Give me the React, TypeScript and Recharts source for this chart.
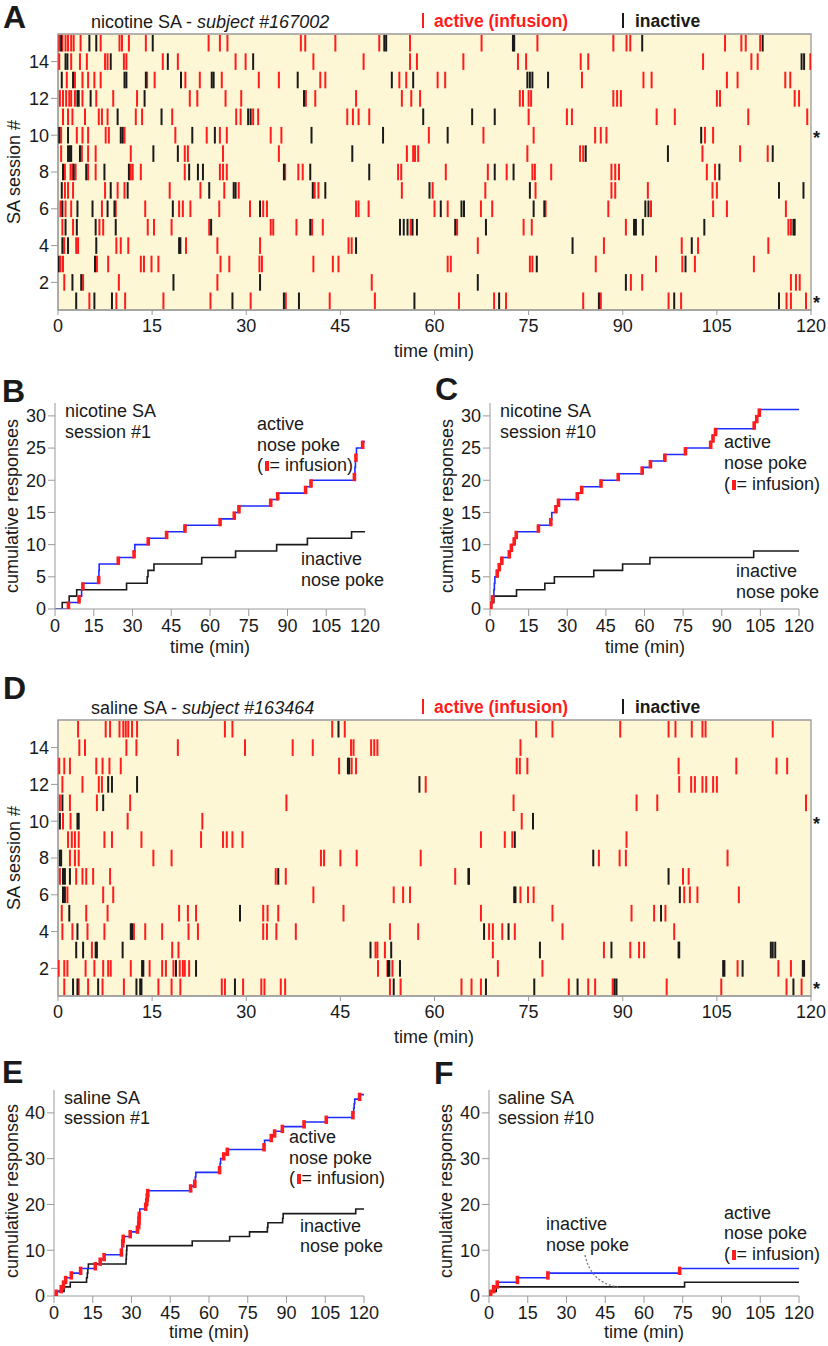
import React from 'react';
import { ScatterChart, Scatter, XAxis, YAxis, ReferenceArea, ComposedChart, Line } from 'recharts';

const FONT = '"Liberation Sans", Arial, Helvetica, sans-serif';
const RED = '#ff1c1c';
const BLUE = '#1f2cff';
const INK = '#1a1a1a';
const AXIS = '#9a9a9a';
const BG = '#fef7d6';
const FS = 18;

const timeTicks = [0, 15, 30, 45, 60, 75, 90, 105, 120];
const sessionTicks = [2, 4, 6, 8, 10, 12, 14];
const nicTicksY = [0, 5, 10, 15, 20, 25, 30];
const salTicksY = [0, 10, 20, 30, 40];

// ---- Panel A: nicotine SA raster (index 0 = session 1) ----
const nicActive: number[][] = [
  [5.0, 9.3, 10.7, 16.8, 24.3, 30.7, 36.3, 43.3, 50.5, 63.9, 69.5, 71.4, 83.7, 86.5, 97.3, 99.3, 116.1, 116.8, 119.2],
  [1.0, 4.0, 9.7, 25.4, 50.0, 91.3, 93.1, 116.8, 117.6, 118.2],
  [0.4, 0.8, 6.2, 8.0, 13.2, 13.7, 14.9, 16.0, 25.9, 27.3, 32.1, 32.5, 40.7, 43.8, 44.7, 62.1, 62.6, 75.2, 75.6, 85.7, 95.3, 99.5, 101.5, 110.9],
  [1.0, 2.9, 3.2, 9.3, 10.0, 11.2, 20.4, 25.4, 32.2, 46.3, 46.8, 66.9, 87.0, 99.4, 102.0, 113.2],
  [0.7, 2.4, 6.6, 7.2, 14.3, 15.3, 18.1, 24.1, 33.9, 34.3, 38.0, 40.5, 42.2, 56.2, 63.6, 74.2, 75.5, 90.5, 116.4, 116.8],
  [0.4, 1.2, 2.1, 7.0, 9.2, 13.9, 19.3, 19.9, 21.1, 25.7, 30.6, 32.7, 33.3, 47.5, 47.9, 49.5, 60.0, 62.1, 67.4, 69.2, 77.7, 87.7, 94.5, 104.4, 106.6, 116.0],
  [1.1, 1.6, 2.4, 7.5, 9.5, 10.6, 17.8, 22.7, 26.5, 28.8, 40.9, 41.5, 54.8, 59.7, 68.1, 76.1, 88.2, 88.8, 94.0, 104.3, 105.0],
  [1.1, 2.0, 2.3, 2.8, 4.8, 6.0, 11.6, 11.9, 13.2, 20.2, 25.8, 26.3, 26.9, 36.2, 38.3, 39.0, 54.2, 54.7, 61.8, 68.5, 71.5, 75.6, 76.0, 78.6, 88.2, 88.8, 89.4, 103.4, 104.7],
  [0.5, 3.8, 4.8, 6.0, 11.6, 20.2, 20.7, 26.3, 35.2, 55.6, 56.6, 56.9, 57.4, 74.8, 83.2, 83.7, 102.7, 108.7, 113.1],
  [0.5, 3.0, 3.9, 4.8, 7.6, 8.1, 10.6, 18.7, 23.7, 25.8, 26.9, 33.9, 35.6, 59.1, 67.8, 75.8, 85.6, 86.5, 87.4, 103.1, 104.4],
  [0.8, 1.6, 2.3, 4.3, 6.5, 7.0, 7.9, 12.4, 13.4, 18.2, 28.4, 29.1, 31.1, 31.9, 46.1, 47.0, 47.9, 49.6, 75.0, 81.1, 81.9, 95.4, 98.3, 110.0, 119.4],
  [0.3, 0.8, 1.3, 1.8, 2.1, 2.7, 3.9, 6.1, 8.8, 12.6, 21.0, 22.2, 26.7, 29.2, 39.5, 41.0, 47.5, 54.8, 56.3, 57.7, 73.6, 74.1, 75.0, 75.4, 88.5, 89.1, 89.7, 105.0, 105.5, 117.4, 118.1],
  [1.4, 2.7, 3.9, 4.8, 5.8, 6.8, 14.2, 15.4, 20.3, 22.6, 26.1, 32.0, 35.2, 41.8, 42.6, 54.4, 55.5, 60.5, 61.7, 83.5, 93.3, 94.6, 106.6, 108.3, 115.9, 116.7],
  [0.2, 2.1, 3.5, 4.6, 7.5, 7.9, 10.5, 10.9, 16.7, 19.1, 28.3, 29.9, 40.7, 48.7, 56.1, 57.2, 64.6, 73.3, 74.6, 83.3, 84.5, 102.8, 110.5, 111.5, 119.9],
  [0.2, 0.7, 1.2, 1.6, 2.1, 2.5, 3.6, 6.8, 9.8, 10.2, 11.3, 14.0, 24.0, 25.8, 27.0, 38.7, 39.4, 44.2, 51.2, 56.1, 67.5, 76.4, 88.5, 90.6, 91.2, 106.3, 108.9, 109.6, 111.9],
];
const nicInactive: number[][] = [
  [2.9, 5.8, 8.6, 27.8, 36.0, 38.4, 56.8, 70.3, 86.2, 98.2, 114.9],
  [2.3, 3.7, 18.4, 32.2, 66.9, 90.5],
  [0.1, 5.9, 76.3, 100.0],
  [0.7, 1.6, 6.1, 19.3, 19.5, 47.5, 82.0, 101.0],
  [1.2, 3.0, 6.0, 9.2, 24.4, 40.2, 54.5, 55.1, 55.7, 56.5, 57.2, 63.3, 68.2, 91.8, 92.1, 93.2, 103.0, 117.2, 117.4],
  [0.7, 3.1, 5.5, 7.9, 9.0, 18.3, 32.2, 61.0, 64.3, 64.7, 75.8, 77.5, 93.6, 94.1],
  [0.6, 8.4, 11.1, 24.1, 28.0, 28.3, 40.6, 42.6, 59.2, 75.2, 114.9, 118.8],
  [0.8, 2.5, 4.5, 7.4, 11.3, 20.9, 22.3, 23.1, 36.0, 40.2, 49.6, 69.6, 72.6, 105.4],
  [1.6, 1.9, 2.1, 3.5, 15.2, 19.1, 46.9, 84.1, 97.2, 113.9],
  [0.2, 1.6, 10.0, 10.3, 21.4, 25.0, 40.4, 51.8, 62.1, 102.5],
  [9.5, 16.5, 30.3, 30.7, 58.2, 66.0, 69.6],
  [3.1, 3.3, 5.2, 13.8, 39.2],
  [0.6, 2.4, 10.6, 10.9, 14.0, 19.6, 24.5, 24.8, 38.2, 53.2, 56.6, 74.8, 75.2, 75.6, 78.1],
  [1.2, 1.5, 8.4, 17.5, 31.1, 118.5, 118.9],
  [0.5, 5.0, 6.1, 15.1, 52.0, 52.3, 72.5, 72.7, 93.1, 112.3],
];

// ---- Panel D: saline SA raster (index 0 = session 1) ----
const salActive: number[][] = [
  [1.0, 3.3, 4.8, 7.1, 10.5, 16.0, 18.1, 19.5, 26.1, 26.6, 29.5, 32.4, 32.9, 35.5, 36.2, 52.9, 54.6, 64.3, 65.9, 67.4, 81.4, 84.5, 85.6, 88.4, 97.0, 105.7, 116.1, 118.5],
  [0.1, 1.0, 1.5, 4.4, 5.8, 7.2, 8.0, 8.4, 11.6, 14.6, 16.6, 17.2, 18.4, 19.4, 19.9, 20.2, 20.9, 51.0, 52.5, 53.3, 70.1, 77.2, 108.3, 114.8, 116.8],
  [5.4, 18.2, 19.2, 50.6, 50.9, 52.1, 69.3, 87.0, 91.2, 92.6, 93.4],
  [0.7, 2.3, 4.7, 7.4, 12.1, 13.9, 16.6, 20.8, 22.3, 32.7, 33.3, 34.8, 37.9, 52.9, 57.4, 68.7, 69.3, 70.8, 72.8, 80.4, 98.2],
  [0.6, 4.5, 7.9, 19.3, 20.7, 22.0, 32.7, 33.4, 35.1, 45.5, 67.4, 78.8, 91.4, 95.0, 96.8],
  [1.5, 7.2, 8.8, 40.7, 53.5, 55.0, 56.1, 73.7, 74.9, 75.8, 99.8, 100.7, 101.9, 108.5],
  [0.3, 2.9, 3.9, 4.5, 5.6, 8.3, 34.7, 36.3, 63.3, 99.6, 100.5],
  [1.9, 2.7, 3.3, 15.2, 18.1, 41.9, 42.4, 45.0, 47.6, 57.8, 86.2, 89.5, 90.5, 106.7],
  [1.6, 2.2, 2.7, 3.3, 7.4, 8.6, 13.3, 22.8, 26.3, 26.9, 27.8, 29.4, 67.4, 71.2, 72.4, 90.6],
  [0.8, 2.0, 11.1, 23.0, 73.9],
  [0.3, 1.9, 6.2, 11.5, 36.4, 72.6, 92.2, 95.5, 119.2],
  [0.7, 3.9, 6.5, 7.0, 58.6, 99.0, 100.9, 101.5, 102.7, 103.3, 104.4, 105.0],
  [0.2, 1.0, 1.9, 6.1, 7.1, 8.2, 10.0, 44.8, 46.8, 47.5, 73.1, 73.6, 74.8, 98.9, 108.1, 114.5, 116.2],
  [3.4, 4.3, 10.9, 12.5, 19.1, 29.8, 37.4, 40.6, 46.7, 47.1, 49.9, 50.4, 50.9, 73.7],
  [3.2, 7.6, 8.3, 9.8, 10.4, 10.8, 11.2, 11.8, 12.6, 26.6, 27.8, 43.7, 45.7, 76.2, 78.8, 89.6, 97.3, 98.4, 101.0, 102.7, 103.2, 113.9],
];
const salInactive: number[][] = [
  [2.4, 3.1, 6.4, 12.5, 13.1, 13.3, 28.2, 53.5, 68.2, 75.9, 82.8, 88.7, 89.0, 117.2],
  [13.4, 13.6, 18.8, 22.0, 52.6, 52.8, 54.5, 106.0, 106.2, 109.1, 118.7, 118.9],
  [2.9, 4.0, 6.0, 6.2, 10.3, 49.8, 53.1, 76.8, 88.2, 98.9, 99.0, 113.6, 113.9, 114.3],
  [3.1, 11.6, 11.8, 67.9, 71.8],
  [1.8, 29.0, 96.1],
  [0.8, 1.1, 72.7, 72.9, 99.1],
  [0.8, 1.1, 1.9, 35.1, 65.4, 65.5, 97.3],
  [0.3, 0.5, 85.3],
  [72.8],
  [0.3, 3.1, 3.3, 75.7],
  [0.7, 7.2],
  [8.0, 8.6, 12.6, 57.6],
  [46.2, 46.4],
  [],
  [44.7],
];

// ---- Cumulative panels: event times (min) and which active responses were infusions ----
const bActive = [5.2, 9.3, 10.3, 10.8, 16.9, 17.0, 17.1, 24.5, 30.6, 30.9, 36.1, 43.2, 50.3, 63.9, 69.4, 71.2, 83.5, 86.2, 97.0, 99.1, 115.9, 116.1, 116.3, 116.5, 116.7, 119.1];
const bInactive = [2.8, 5.5, 8.4, 27.7, 35.7, 36.0, 38.3, 56.8, 69.9, 85.8, 97.7, 114.8];
const bInfusions = [1, 2, 4, 5, 8, 9, 11, 12, 13, 14, 15, 16, 17, 18, 19, 20, 21, 24, 26];

const cActive = [0.3, 1.0, 1.5, 1.7, 1.9, 2.8, 3.6, 4.6, 7.5, 8.3, 9.4, 10.2, 18.8, 23.6, 24.0, 25.6, 26.6, 33.9, 35.6, 43.1, 49.8, 59.1, 62.3, 67.9, 75.9, 85.7, 86.6, 87.6, 102.6, 103.6, 104.6];
const cInactive = [0.6, 1.5, 10.3, 21.3, 25.0, 40.3, 51.5, 62.1, 102.4];
const cInfusions = [1, 2, 6, 7, 8, 9, 10, 11, 12, 13, 14, 16, 17, 18, 19, 20, 21, 22, 23, 24, 25, 26, 27, 28, 29, 30, 31];

const eActive = [0.9, 2.8, 3.7, 4.5, 6.7, 10.3, 16.0, 17.9, 19.4, 26.1, 26.4, 26.6, 26.8, 29.5, 32.3, 32.8, 32.9, 33.0, 33.2, 35.5, 35.9, 36.1, 36.3, 52.9, 54.5, 54.7, 54.9, 64.1, 64.3, 64.5, 65.7, 67.1, 81.3, 81.5, 84.1, 85.4, 88.4, 96.8, 105.4, 115.7, 116.0, 116.2, 116.4, 118.3];
const eInactive = [1.0, 3.9, 6.3, 12.6, 12.9, 13.1, 13.3, 27.9, 28.0, 28.1, 28.2, 53.5, 68.0, 75.7, 82.6, 82.8, 88.5, 88.7, 116.8];
const eInfusions = [1, 2, 3, 4, 5, 6, 7, 8, 9, 10, 12, 13, 14, 15, 16, 17, 18, 20, 21, 22, 23, 24, 25, 28, 31, 32, 33, 35, 36, 37, 38, 39, 40, 44];

const fActive = [0.6, 1.8, 3.2, 11.0, 22.8, 73.8];
const fInactive = [0.9, 2.8, 75.7];
const fInfusions = [1, 2, 3, 4, 5, 6];

// ---------- helpers ----------
const tickStyle = { fill: INK, fontSize: FS };

const rasterTick = (color: string) => (p: any) => (
  <line x1={p.cx} x2={p.cx} y1={p.cy - 8.3} y2={p.cy + 8.3} stroke={color} strokeWidth={2} />
);

const infusionMark = (p: any) => (
  <rect x={p.cx - 1.8} y={p.cy - 4.2} width={3.6} height={8.4} fill={RED} />
);

function Raster({ active, inactive }: { active: number[][]; inactive: number[][] }) {
  const act = active.flatMap((row, i) => row.map((t) => ({ t, s: i + 1 })));
  const ina = inactive.flatMap((row, i) => row.map((t) => ({ t, s: i + 1 })));
  return (
    <ScatterChart width={828} height={370} margin={{ top: 34, right: 17, bottom: 0, left: 0 }}>
      <ReferenceArea x1={0} x2={120} y1={0.5} y2={15.5} fill={BG} fillOpacity={1} stroke={AXIS} strokeWidth={1.3} />
      <XAxis type="number" dataKey="t" domain={[0, 120]} ticks={timeTicks} interval={0} height={60}
        stroke={AXIS} tickSize={5} tickMargin={4} tick={tickStyle} allowDataOverflow />
      <YAxis type="number" dataKey="s" domain={[0.5, 15.5]} ticks={sessionTicks} interval={0} width={58}
        stroke={AXIS} tickSize={7} tickMargin={2} tick={tickStyle} allowDataOverflow />
      <Scatter data={act} fill={RED} shape={rasterTick(RED)} isAnimationActive={false} />
      <Scatter data={ina} fill={INK} shape={rasterTick(INK)} isAnimationActive={false} />
    </ScatterChart>
  );
}

function steps(events: number[]) {
  return [{ t: 0, n: 0 }, ...events.map((t, i) => ({ t, n: i + 1 })), { t: 120, n: events.length }];
}

function Cumulative(props: {
  width: number; height: number; top: number; right: number; yWidth: number; xHeight: number;
  yMax: number; yTicks: number[]; active: number[]; inactive: number[]; infusions: number[];
}) {
  const { width, height, top, right, yWidth, xHeight, yMax, yTicks, active, inactive, infusions } = props;
  const marks = infusions.map((k) => ({ t: active[k - 1], n: k - 0.5 }));
  return (
    <ComposedChart width={width} height={height} margin={{ top, right, bottom: 0, left: 0 }}>
      <XAxis type="number" dataKey="t" domain={[0, 120]} ticks={timeTicks} interval={0} height={xHeight}
        stroke={AXIS} tickSize={7} tickMargin={3} tick={tickStyle} allowDataOverflow />
      <YAxis type="number" dataKey="n" domain={[0, yMax]} ticks={yTicks} interval={0} width={yWidth}
        stroke={AXIS} tickSize={7} tickMargin={2} tick={tickStyle} allowDataOverflow />
      <Line data={steps(inactive)} dataKey="n" type="stepAfter" stroke={INK} strokeWidth={1.6} dot={false} isAnimationActive={false} />
      <Line data={steps(active)} dataKey="n" type="stepAfter" stroke={BLUE} strokeWidth={1.6} dot={false} isAnimationActive={false} />
      <Scatter data={marks} dataKey="n" fill={RED} shape={infusionMark} isAnimationActive={false} />
    </ComposedChart>
  );
}

function T({ x, y, size = FS, bold, color = INK, middle, children }: any) {
  return (
    <div style={{
      position: 'absolute', left: x, top: y - 11, fontSize: size, lineHeight: '21px',
      fontWeight: bold ? 700 : 400, color, whiteSpace: 'nowrap',
      transform: middle ? 'translateX(-50%)' : undefined,
    }}>{children}</div>
  );
}

function VT({ x, y, children }: any) {
  return (
    <div style={{
      position: 'absolute', left: x, top: y, fontSize: FS, lineHeight: '21px', whiteSpace: 'nowrap',
      transform: 'translate(-50%, -50%) rotate(-90deg)',
    }}>{children}</div>
  );
}

function Star({ x, y }: any) {
  return (
    <div style={{ position: 'absolute', left: x, top: y, fontSize: 18, fontWeight: 700, lineHeight: '14px', height: 14, whiteSpace: 'nowrap' }}>*</div>
  );
}

function Letter({ x, y, ch }: any) {
  return <div style={{ position: 'absolute', left: x, top: y - 4, fontSize: 32, fontWeight: 700, lineHeight: '32px' }}>{ch}</div>;
}

function Bar({ x, y, color }: any) {
  return <div style={{ position: 'absolute', left: x, top: y, width: 2, height: 15, background: color }} />;
}

const InfMark = () => (
  <span style={{ display: 'inline-block', width: 3.5, height: 10, background: RED, margin: '0 1px 0 2px', verticalAlign: '0px' }} />
);

function RasterHeader({ dy, title, subject }: any) {
  return (
    <>
      <T x={91} y={23 + dy}>{title} - <i>{subject}</i></T>
      <Bar x={422} y={13 + dy} color={RED} />
      <T x={434} y={22 + dy} size={17.5} bold color={RED}>active (infusion)</T>
      <Bar x={622} y={13 + dy} color={INK} />
      <T x={635} y={22 + dy} size={17.5} bold>inactive</T>
      <VT x={14} y={172 + dy}>SA session #</VT>
      <T x={434} y={352 + dy} middle>time (min)</T>
      <Star x={813} y={131 + dy} />
      <Star x={813} y={296 + dy} />
    </>
  );
}

export default function App() {
  return (
    <div style={{ position: 'absolute', left: 0, top: 0, width: 828, height: 1346, fontFamily: FONT, color: INK, background: '#fff', overflow: 'hidden' }}>
      {/* Panel A */}
      <div style={{ position: 'absolute', left: 0, top: 0 }}>
        <Raster active={nicActive} inactive={nicInactive} />
      </div>
      <Letter x={3} y={5} ch="A" />
      <RasterHeader dy={0} title="nicotine SA" subject="subject #167002" />

      {/* Panel B */}
      <div style={{ position: 'absolute', left: 0, top: 395 }}>
        <Cumulative width={410} height={260} top={8} right={45} yWidth={55} xHeight={46} yMax={32} yTicks={nicTicksY}
          active={bActive} inactive={bInactive} infusions={bInfusions} />
      </div>
      <Letter x={2} y={379} ch="B" />
      <T x={65} y={412}>nicotine SA</T>
      <T x={65} y={433}>session #1</T>
      <T x={257} y={425}>active</T>
      <T x={257} y={446}>nose poke</T>
      <T x={257} y={466}>(<InfMark />= infusion)</T>
      <T x={301} y={560}>inactive</T>
      <T x={301} y={581}>nose poke</T>
      <VT x={12} y={506}>cumulative responses</VT>
      <T x={210} y={648} middle>time (min)</T>

      {/* Panel C */}
      <div style={{ position: 'absolute', left: 410, top: 395 }}>
        <Cumulative width={418} height={260} top={8} right={29} yWidth={80} xHeight={46} yMax={32} yTicks={nicTicksY}
          active={cActive} inactive={cInactive} infusions={cInfusions} />
      </div>
      <Letter x={435} y={377} ch="C" />
      <T x={500} y={412}>nicotine SA</T>
      <T x={500} y={433}>session #10</T>
      <T x={724} y={443}>active</T>
      <T x={724} y={464}>nose poke</T>
      <T x={724} y={485}>(<InfMark />= infusion)</T>
      <T x={736} y={572}>inactive</T>
      <T x={736} y={593}>nose poke</T>
      <VT x={447} y={506}>cumulative responses</VT>
      <T x={645} y={648} middle>time (min)</T>

      {/* Panel D */}
      <div style={{ position: 'absolute', left: 0, top: 686 }}>
        <Raster active={salActive} inactive={salInactive} />
      </div>
      <Letter x={3} y={676} ch="D" />
      <RasterHeader dy={686} title="saline SA" subject="subject #163464" />

      {/* Panel E */}
      <div style={{ position: 'absolute', left: 0, top: 1080 }}>
        <Cumulative width={410} height={262} top={10} right={46} yWidth={54} xHeight={46} yMax={45} yTicks={salTicksY}
          active={eActive} inactive={eInactive} infusions={eInfusions} />
      </div>
      <Letter x={2} y={1060} ch="E" />
      <T x={64} y={1099}>saline SA</T>
      <T x={64} y={1119}>session #1</T>
      <T x={289} y={1138}>active</T>
      <T x={289} y={1159}>nose poke</T>
      <T x={289} y={1179}>(<InfMark />= infusion)</T>
      <T x={300} y={1227}>inactive</T>
      <T x={300} y={1247}>nose poke</T>
      <VT x={12} y={1191}>cumulative responses</VT>
      <T x={209} y={1333} middle>time (min)</T>

      {/* Panel F */}
      <div style={{ position: 'absolute', left: 410, top: 1080 }}>
        <Cumulative width={418} height={262} top={10} right={29} yWidth={79} xHeight={46} yMax={45} yTicks={salTicksY}
          active={fActive} inactive={fInactive} infusions={fInfusions} />
      </div>
      <Letter x={434} y={1061} ch="F" />
      <T x={498} y={1099}>saline SA</T>
      <T x={498} y={1119}>session #10</T>
      <T x={546} y={1225}>inactive</T>
      <T x={546} y={1246}>nose poke</T>
      <T x={724} y={1214}>active</T>
      <T x={724} y={1234}>nose poke</T>
      <T x={724} y={1255}>(<InfMark />= infusion)</T>
      <VT x={446} y={1191}>cumulative responses</VT>
      <T x={644} y={1333} middle>time (min)</T>
      <svg style={{ position: 'absolute', left: 0, top: 0, pointerEvents: 'none' }} width={828} height={1346}>
        <path d="M 585 1255 Q 591 1283 618 1287" fill="none" stroke="#777" strokeWidth={1.3} strokeDasharray="2 2" />
      </svg>
    </div>
  );
}
